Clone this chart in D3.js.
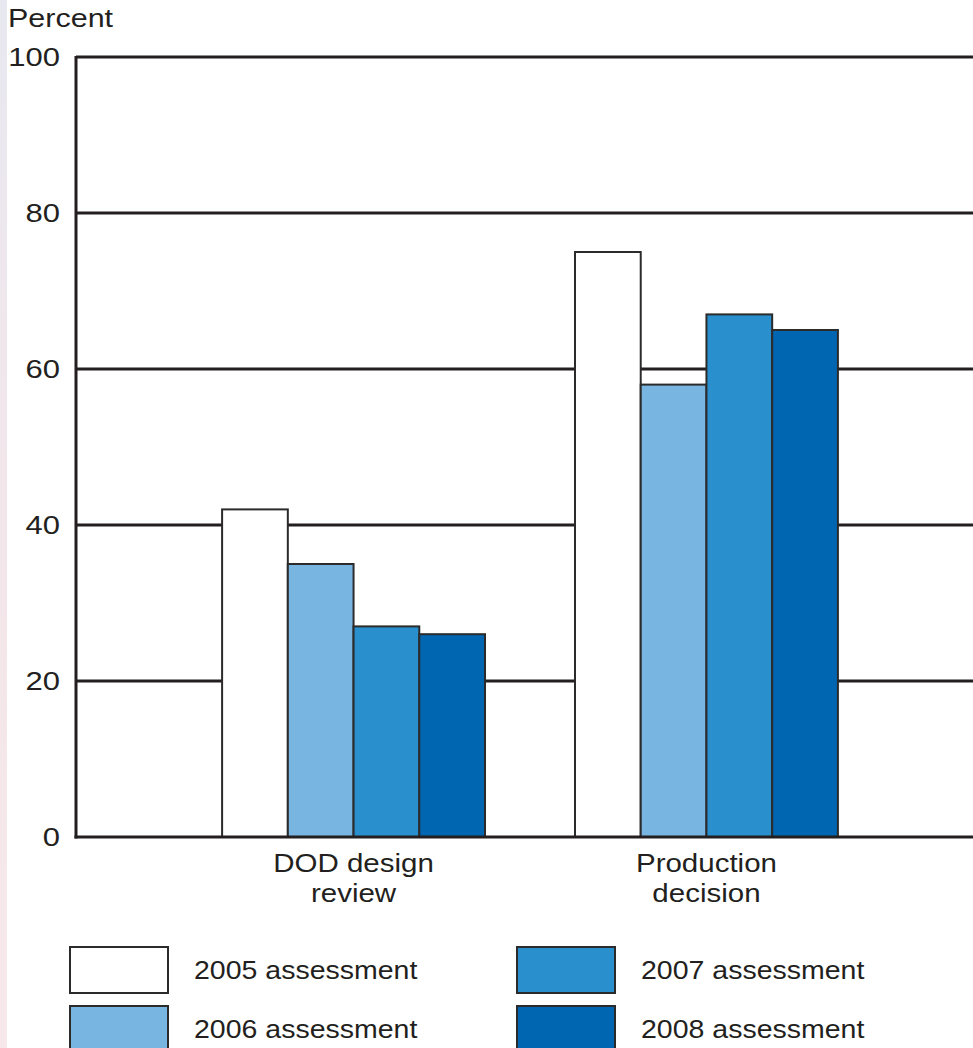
<!DOCTYPE html>
<html>
<head>
<meta charset="utf-8">
<script src="https://cdn.jsdelivr.net/npm/d3@7"></script>
<style>
html,body{margin:0;padding:0;background:#fff;}
svg{display:block;font-family:"Liberation Sans",Arial,Helvetica,sans-serif;}
</style>
</head>
<body>
<script>
const categories = ["DOD design review", "Production decision"];
const categoryLines = [["DOD design", "review"], ["Production", "decision"]];
const seriesNames = ["2005 assessment", "2006 assessment", "2007 assessment", "2008 assessment"];
const values2005 = [42, 75];
const values2006 = [35, 58];
const values2007 = [27, 67];
const values2008 = [26, 65];
const yTicks = [0, 20, 40, 60, 80, 100];
const colors = ["#ffffff", "#79b5e1", "#2990cd", "#0066b1"];

const seriesValues = [values2005, values2006, values2007, values2008];
const W = 973, H = 1048;
const svg = d3.select("body").append("svg").attr("width", W).attr("height", H);

// faint edge tint like the reference
const defs = svg.append("defs");
const g1 = defs.append("linearGradient").attr("id","edge").attr("x1",0).attr("y1",0).attr("x2",0).attr("y2",1);
g1.append("stop").attr("offset","0").attr("stop-color","#e8e8f0");
g1.append("stop").attr("offset","0.5").attr("stop-color","#f3e6ea");
g1.append("stop").attr("offset","1").attr("stop-color","#f6e8ea");
svg.append("rect").attr("x",0).attr("y",0).attr("width",7).attr("height",H).attr("fill","url(#edge)");

const y = d3.scaleLinear().domain([0, 100]).range([837, 57]);
const x0 = d3.scaleBand().domain(categories).range([76, 984]).paddingInner(0.255).paddingOuter(0.414);
const x1 = d3.scaleBand().domain(seriesNames).range([0, x0.bandwidth()]);

// gridlines
svg.append("g").selectAll("line").data(yTicks.filter(d => d > 0)).join("line")
  .attr("x1", 76).attr("x2", W).attr("y1", d => y(d)).attr("y2", d => y(d))
  .attr("stroke", "#231f20").attr("stroke-width", 3);

// y tick labels
svg.append("g").selectAll("text").data(yTicks).join("text")
  .attr("transform", d => `translate(60,${y(d)}) scale(1.24,1)`).attr("dy", "0.36em")
  .attr("text-anchor", "end").attr("font-size", 25).attr("fill", "#231f20")
  .text(d => d);

svg.append("text").attr("transform", "translate(8,27) scale(1.22,1)")
  .attr("font-size", 25).attr("fill", "#231f20").text("Percent");

// bars
const groups = svg.append("g").selectAll("g").data(categories).join("g")
  .attr("transform", d => `translate(${x0(d)},0)`);
groups.selectAll("rect").data((c, ci) => seriesNames.map((s, si) => ({s, si, v: seriesValues[si][ci]})))
  .join("rect")
  .attr("x", d => x1(d.s)).attr("width", x1.bandwidth())
  .attr("y", d => y(d.v)).attr("height", d => y(0) - y(d.v))
  .attr("fill", d => colors[d.si]).attr("stroke", "#2b2b2b").attr("stroke-width", 2);

// axes lines
svg.append("line").attr("x1", 76).attr("x2", 76).attr("y1", 56).attr("y2", 838.5)
  .attr("stroke", "#231f20").attr("stroke-width", 3);
svg.append("line").attr("x1", 74.5).attr("x2", W).attr("y1", y(0)).attr("y2", y(0))
  .attr("stroke", "#231f20").attr("stroke-width", 3);

// category labels
svg.append("g").selectAll("text").data(categories).join("text")
  .attr("text-anchor", "middle").attr("font-size", 25).attr("fill", "#231f20")
  .attr("transform", d => `translate(${x0(d) + x0.bandwidth() / 2},872) scale(1.18,1)`)
  .each(function(d, i) {
    const t = d3.select(this);
    categoryLines[i].forEach((ln, k) => t.append("tspan").attr("x", 0).attr("y", k * 30).text(ln));
  });

// legend
const legendPos = [[70, 947], [70, 1006], [517, 947], [517, 1006]];
const leg = svg.append("g").selectAll("g").data(seriesNames).join("g")
  .attr("transform", (d, i) => `translate(${legendPos[i][0]},${legendPos[i][1]})`);
leg.append("rect").attr("width", 98).attr("height", 46)
  .attr("fill", (d, i) => colors[i]).attr("stroke", "#2b2b2b").attr("stroke-width", 2);
leg.append("text").attr("transform", "translate(124,23) scale(1.14,1)").attr("dy", "0.36em")
  .attr("font-size", 25).attr("fill", "#231f20").text(d => d);
</script>
</body>
</html>
